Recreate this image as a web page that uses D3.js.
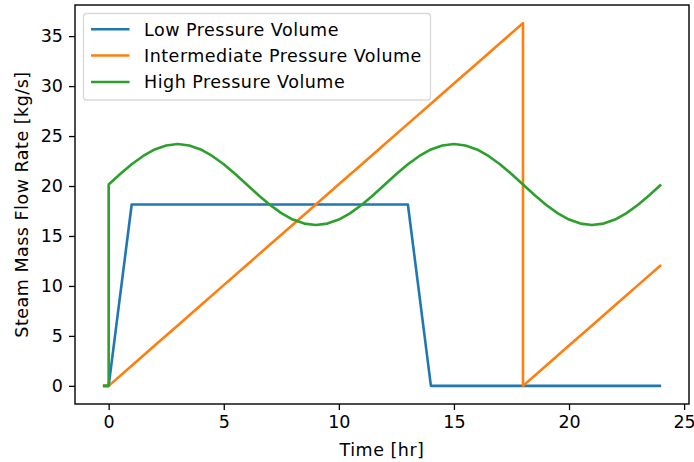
<!DOCTYPE html>
<html>
<head>
<meta charset="utf-8">
<script src="https://cdn.jsdelivr.net/npm/d3@7"></script>
<style>
  html, body { margin: 0; padding: 0; background: #fff; }
  svg text { font-family: "DejaVu Sans", sans-serif; fill: #000; }
</style>
</head>
<body>
<svg id="chart" width="694" height="462"></svg>
<script>
// ---- data ----
const timeHours = [-0.25, 0, 0, 1, 2, 3, 4, 5, 6, 7, 8, 9, 10, 11, 12, 13, 14, 15, 16, 17, 18, 18, 19, 20, 21, 22, 23, 24];
const lowPressure = [0, 0, 0, 18.15, 18.15, 18.15, 18.15, 18.15, 18.15, 18.15, 18.15, 18.15, 18.15, 18.15, 18.15, 18.15, 0, 0, 0, 0, 0, 0, 0, 0, 0, 0, 0, 0];
const intermediatePressure = [0, 0, 0, 2.02, 4.03, 6.05, 8.07, 10.08, 12.1, 14.12, 16.13, 18.15, 20.17, 22.18, 24.2, 26.22, 28.23, 30.25, 32.27, 34.28, 36.3, 0, 2.02, 4.03, 6.05, 8.07, 10.08, 12.1];
const highTimes = [-0.25, 0, 0, 0.5, 1, 1.5, 2, 2.5, 3, 3.5, 4, 4.5, 5, 5.5, 6, 6.5, 7, 7.5, 8, 8.5, 9, 9.5, 10, 10.5, 11, 11.5, 12,
  12.5, 13, 13.5, 14, 14.5, 15, 15.5, 16, 16.5, 17, 17.5, 18, 18.5, 19, 19.5, 20, 20.5, 21, 21.5, 22, 22.5, 23, 23.5, 24];
const highPressure = [0, 0, 20.15, 21.2, 22.18, 23.01, 23.66, 24.06, 24.2, 24.06, 23.66, 23.01, 22.18, 21.2, 20.15, 19.1, 18.13, 17.29, 16.64, 16.24, 16.1, 16.24, 16.64, 17.29, 18.13, 19.1, 20.15,
  21.2, 22.18, 23.01, 23.66, 24.06, 24.2, 24.06, 23.66, 23.01, 22.18, 21.2, 20.15, 19.1, 18.13, 17.29, 16.64, 16.24, 16.1, 16.24, 16.64, 17.29, 18.13, 19.1, 20.15];
const seriesNames = ["Low Pressure Volume", "Intermediate Pressure Volume", "High Pressure Volume"];
const seriesColors = ["#1f77b4", "#ff7f0e", "#2ca02c"];
const xTicks = [0, 5, 10, 15, 20, 25];
const yTicks = [0, 5, 10, 15, 20, 25, 30, 35];
const xLabel = "Time [hr]";
const yLabel = "Steam Mass Flow Rate [kg/s]";

// ---- layout ----
const svg = d3.select("#chart");
const axLeft = 75, axRight = 689, axTop = 5, axBottom = 404;
const fontSize = 17.5;
const spacing = "0.5px";

const allVals = lowPressure.concat(intermediatePressure, highPressure);
const allTimes = timeHours.concat(highTimes);
const xMin = d3.min(allTimes), xMax = d3.max(allTimes);
const yMin = d3.min(allVals), yMax = d3.max(allVals);
const xPad = (xMax - xMin) * 0.05, yPad = (yMax - yMin) * 0.05;

const x = d3.scaleLinear().domain([xMin - xPad, xMax + xPad]).range([axLeft, axRight]);
const y = d3.scaleLinear().domain([yMin - yPad, yMax + yPad]).range([axBottom, axTop]);

const series = [
  timeHours.map((t, j) => [t, lowPressure[j]]),
  timeHours.map((t, j) => [t, intermediatePressure[j]]),
  highTimes.map((t, j) => [t, highPressure[j]])
];
const line = d3.line().x(d => x(d[0])).y(d => y(d[1]));

const plot = svg.append("g");
series.forEach((pts, i) => {
  plot.append("path")
    .attr("d", line(pts))
    .attr("fill", "none")
    .attr("stroke", seriesColors[i])
    .attr("stroke-width", 2.6)
    .attr("stroke-linejoin", "round")
    .attr("stroke-linecap", "butt");
});

// axes
const xAxis = d3.axisBottom(x).tickValues(xTicks).tickSize(6).tickPadding(6).tickFormat(d3.format("d"));
const yAxis = d3.axisLeft(y).tickValues(yTicks).tickSize(6).tickPadding(6).tickFormat(d3.format("d"));

const gx = svg.append("g").attr("transform", `translate(0,${axBottom})`).call(xAxis);
const gy = svg.append("g").attr("transform", `translate(${axLeft},0)`).call(yAxis);
[gx, gy].forEach(g => {
  g.select(".domain").remove();
  g.selectAll(".tick line").attr("stroke", "#000").attr("stroke-width", 1.3);
  g.selectAll(".tick text").attr("font-size", fontSize).attr("font-family", "DejaVu Sans").attr("fill", "#000");
});

// spines
svg.append("rect")
  .attr("x", axLeft).attr("y", axTop)
  .attr("width", axRight - axLeft).attr("height", axBottom - axTop)
  .attr("fill", "none").attr("stroke", "#000").attr("stroke-width", 1.4);

// axis labels
svg.append("text")
  .attr("x", (axLeft + axRight) / 2).attr("y", 456)
  .attr("text-anchor", "middle").attr("font-size", fontSize)
  .attr("letter-spacing", spacing)
  .text(xLabel);
svg.append("text")
  .attr("transform", `translate(28,${(axTop + axBottom) / 2}) rotate(-90)`)
  .attr("text-anchor", "middle").attr("font-size", fontSize)
  .attr("letter-spacing", spacing)
  .text(yLabel);

// legend
const legend = svg.append("g");
legend.append("rect")
  .attr("x", 83.5).attr("y", 13.5).attr("width", 347).attr("height", 86.5)
  .attr("rx", 3).attr("fill", "#fff").attr("fill-opacity", 0.8)
  .attr("stroke", "#d9d9d9").attr("stroke-width", 1.3);
const rowY = [29.3, 55.5, 82];
seriesNames.forEach((name, i) => {
  legend.append("line")
    .attr("x1", 91).attr("x2", 129.5)
    .attr("y1", rowY[i]).attr("y2", rowY[i])
    .attr("stroke", seriesColors[i]).attr("stroke-width", 2.6);
  legend.append("text")
    .attr("x", 144).attr("y", rowY[i]).attr("dy", "0.36em")
    .attr("font-size", fontSize)
    .attr("letter-spacing", spacing)
    .text(name);
});
</script>
</body>
</html>
